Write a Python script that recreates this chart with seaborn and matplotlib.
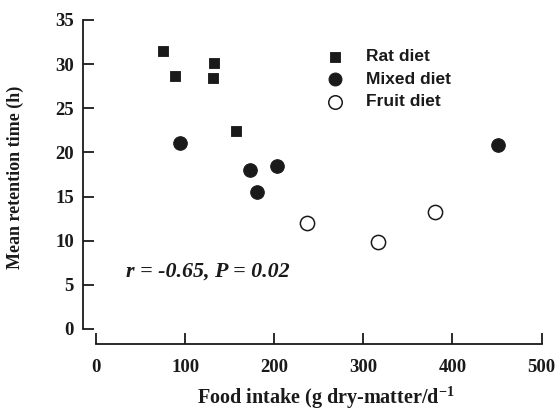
"""
Mean retention time vs. food intake, by diet type.
"""

import matplotlib
matplotlib.use("Agg")
import matplotlib.pyplot as plt
import pandas as pd
import seaborn as sns

# ── Data ──────────────────────────────────────────────────────────────────────

rat_intake = [75, 89, 132, 131, 157]
rat_mrt = [31.5, 28.6, 30.1, 28.4, 22.4]

mixed_intake = [94, 173, 181, 203, 451]
mixed_mrt = [21.1, 18.0, 15.5, 18.4, 20.8]

fruit_intake = [237, 316, 380]
fruit_mrt = [12.0, 9.9, 13.2]

diet_labels = ["Rat diet", "Mixed diet", "Fruit diet"]
x_ticks = [0, 100, 200, 300, 400, 500]
y_ticks = [0, 5, 10, 15, 20, 25, 30, 35]

df = pd.DataFrame({
    "intake": rat_intake + mixed_intake + fruit_intake,
    "mrt": rat_mrt + mixed_mrt + fruit_mrt,
    "diet": [diet_labels[0]] * len(rat_intake)
            + [diet_labels[1]] * len(mixed_intake)
            + [diet_labels[2]] * len(fruit_intake),
})

# ── Style ─────────────────────────────────────────────────────────────────────

sns.set_style("ticks")
plt.rcParams["font.family"] = ["Liberation Serif", "DejaVu Serif"]
plt.rcParams["mathtext.fontset"] = "custom"
plt.rcParams["mathtext.bf"] = "Liberation Serif:bold"
plt.rcParams["mathtext.rm"] = "Liberation Serif:bold"

INK = "#1a1a1a"

fig = plt.figure(figsize=(5.58, 4.11), dpi=100)
ax = fig.add_axes([83 / 558, 1 - 344 / 411, 459 / 558, 325 / 411])

styles = {
    "Rat diet": dict(marker="s", s=62, color=INK, edgecolor=INK),
    "Mixed diet": dict(marker="o", s=95, color=INK, edgecolor=INK),
    "Fruit diet": dict(marker="o", s=105, facecolor="white", edgecolor=INK, linewidth=1.1),
}

for diet in diet_labels:
    sub = df[df["diet"] == diet]
    sns.scatterplot(data=sub, x="intake", y="mrt", ax=ax, label=diet,
                    zorder=3, **styles[diet])

# ── Axes ──────────────────────────────────────────────────────────────────────

ax.set_xlim(-14.6, 500.5)
ax.set_ylim(-1.7, 35.1)
ax.spines["left"].set_bounds(0, 35)
ax.spines["bottom"].set_bounds(0, 500)
for side in ("top", "right"):
    ax.spines[side].set_visible(False)
for side in ("left", "bottom"):
    ax.spines[side].set_linewidth(1.3)
    ax.spines[side].set_color(INK)

ax.set_xticks(x_ticks)
ax.set_yticks(y_ticks)
ax.tick_params(axis="both", direction="in", length=8, width=1.3, color=INK,
               labelsize=13.5, labelcolor=INK)
ax.tick_params(axis="y", pad=6.5)
ax.tick_params(axis="x", pad=11)
for lbl in ax.get_xticklabels() + ax.get_yticklabels():
    lbl.set_fontweight("bold")

ax.set_xlabel("")
ax.set_ylabel("")
fig.text(15 / 558, 1 - 177 / 411, "Mean retention time (h)", rotation=90,
         ha="center", va="center", fontsize=13, fontweight="bold", color=INK)
fig.text(197 / 558, 1 - 404 / 411, r"Food intake (g dry-matter/d$^{\mathbf{-1}}$",
         ha="left", va="baseline", fontsize=14.5, fontweight="bold", color=INK)

ax.text(34, 6.5, "r = -0.65, P = 0.02", fontsize=15.8, fontweight="bold",
        fontstyle="italic", color=INK, ha="left", va="center")

leg = ax.legend(loc="upper left", bbox_to_anchor=(0.478, 0.955), frameon=False,
                prop={"family": "Liberation Sans", "weight": "bold", "size": 12.5},
                handletextpad=0.75, labelspacing=0.42, markerscale=0.95)
for t in leg.get_texts():
    t.set_color(INK)

plt.savefig("out.png", dpi=100)
